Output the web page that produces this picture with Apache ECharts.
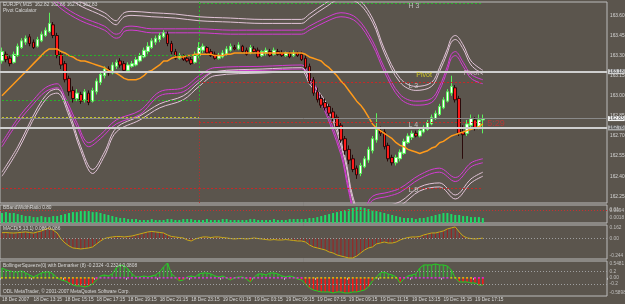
<!DOCTYPE html>
<html>
<head>
<meta charset="utf-8">
<script src="https://cdn.jsdelivr.net/npm/echarts@6/dist/echarts.min.js"></script>
<style>
html,body{margin:0;padding:0;background:#5b554d;overflow:hidden;}
#chart{width:625px;height:304px;}
</style>
</head>
<body>
<div id="chart"></div>
<script>
// ---------------- DATA ----------------
const tickLabels = ['18 Dec 2007','18 Dec 13:15','18 Dec 15:15','18 Dec 17:15','18 Dec 19:15','18 Dec 21:15','18 Dec 23:15','19 Dec 01:15','19 Dec 03:15','19 Dec 05:15','19 Dec 07:15','19 Dec 09:15','19 Dec 11:15','19 Dec 13:15','19 Dec 15:15','19 Dec 17:15'];
const tickStep = 8;        // bars between time labels
const slotCount = 154;     // bar slots visible on the chart
const priceTicks = [163.60,163.45,163.30,163.15,163.00,162.85,162.70,162.55,162.40,162.25];

const openP = [163.26,163.31,163.28,163.25,163.30,163.36,163.40,163.44,163.40,163.37,
163.41,163.45,163.48,163.53,163.45,163.31,163.24,163.13,163.04,162.98,
163.01,162.97,163.02,162.96,163.03,163.10,163.15,163.20,163.17,163.22,
163.26,163.24,163.19,163.22,163.23,163.26,163.29,163.33,163.36,163.40,
163.42,163.44,163.46,163.39,163.33,163.28,163.30,163.28,163.27,163.25,
163.30,163.34,163.36,163.33,163.31,163.28,163.29,163.31,163.34,163.36,
163.35,163.37,163.34,163.32,163.35,163.34,163.30,163.32,163.33,163.31,
163.33,163.32,163.30,163.32,163.30,163.32,163.31,163.28,163.22,163.12,
163.03,162.98,162.95,162.92,162.88,162.84,162.78,162.68,162.60,162.53,
162.46,162.42,162.47,162.52,162.59,162.67,162.74,162.73,162.63,162.54,
162.50,162.53,162.57,162.65,162.69,162.72,162.70,162.73,162.75,162.79,
162.83,162.86,162.91,162.96,163.02,163.06,162.98,162.73,162.72,162.78,
162.82,162.77,162.82];
const closeP = [163.33,163.27,163.24,163.31,163.37,163.41,163.43,163.39,163.36,163.42,
163.46,163.49,163.54,163.45,163.30,163.23,163.12,163.03,162.98,163.02,
162.96,163.03,162.95,163.04,163.11,163.16,163.20,163.17,163.23,163.25,
163.23,163.19,163.23,163.24,163.27,163.30,163.34,163.37,163.41,163.43,
163.45,163.47,163.39,163.33,163.28,163.30,163.27,163.26,163.24,163.31,
163.36,163.37,163.32,163.30,163.28,163.30,163.32,163.35,163.37,163.35,
163.38,163.33,163.31,163.36,163.33,163.29,163.33,163.34,163.30,163.34,
163.31,163.30,163.32,163.29,163.32,163.30,163.27,163.21,163.11,163.02,
162.97,162.93,162.91,162.87,162.83,162.77,162.67,162.59,162.52,162.45,
162.41,162.48,162.53,162.60,162.68,162.75,162.72,162.62,162.53,162.50,
162.54,162.58,162.66,162.70,162.72,162.70,162.74,162.76,162.80,162.84,
162.87,162.92,162.97,163.03,163.07,162.97,162.72,162.71,162.79,162.83,
162.76,162.82,162.83];
const lowP = [163.24,163.25,163.22,163.24,163.29,163.35,163.38,163.37,163.35,163.36,
163.40,163.44,163.47,163.43,163.28,163.20,163.10,163.00,162.95,162.96,
162.94,162.95,162.93,162.95,163.01,163.08,163.13,163.15,163.16,163.20,
163.21,163.18,163.17,163.21,163.22,163.25,163.28,163.31,163.35,163.38,
163.40,163.43,163.37,163.31,163.27,163.27,163.26,163.25,163.23,163.24,
163.28,163.32,163.31,163.29,163.27,163.27,163.28,163.30,163.33,163.34,
163.34,163.32,163.30,163.31,163.32,163.28,163.29,163.30,163.29,163.30,
163.30,163.29,163.29,163.28,163.29,163.29,163.26,163.20,163.09,163.00,
162.95,162.91,162.89,162.85,162.81,162.75,162.65,162.56,162.49,162.43,
162.38,162.40,162.46,162.50,162.57,162.65,162.70,162.60,162.51,162.48,
162.48,162.51,162.56,162.64,162.67,162.69,162.69,162.72,162.74,162.78,
162.82,162.85,162.90,162.95,163.00,162.95,162.70,162.53,162.70,162.76,
162.74,162.75,162.72];
const highP = [163.36,163.33,163.30,163.33,163.39,163.43,163.45,163.46,163.42,163.44,
163.48,163.51,163.62,163.55,163.47,163.34,163.26,163.15,163.07,163.05,
163.03,163.05,163.04,163.06,163.13,163.18,163.22,163.22,163.25,163.27,
163.28,163.26,163.25,163.26,163.29,163.32,163.36,163.40,163.43,163.45,
163.47,163.49,163.48,163.41,163.35,163.32,163.31,163.30,163.29,163.33,
163.40,163.39,163.37,163.35,163.33,163.32,163.34,163.37,163.39,163.38,
163.40,163.38,163.36,163.38,163.37,163.36,163.34,163.36,163.35,163.36,
163.35,163.34,163.33,163.33,163.34,163.33,163.33,163.30,163.24,163.14,
163.06,163.01,162.98,162.94,162.91,162.86,162.80,162.70,162.63,162.56,
162.48,162.50,162.55,162.62,162.70,162.87,162.77,162.75,162.65,162.56,
162.56,162.60,162.68,162.72,162.74,162.74,162.76,162.78,162.82,162.86,
162.89,162.94,162.99,163.05,163.15,163.08,163.00,162.78,162.82,162.86,
162.84,162.86,162.86];

const maValues = [163.00,163.03,163.06,163.09,163.12,163.15,163.18,163.21,163.24,163.27,
163.30,163.33,163.35,163.35,163.35,163.33,163.32,163.30,163.29,163.27,
163.26,163.26,163.25,163.24,163.23,163.22,163.21,163.19,163.18,163.17,
163.15,163.13,163.12,163.12,163.12,163.13,163.15,163.18,163.19,163.21,
163.23,163.26,163.26,163.28,163.29,163.29,163.29,163.30,163.30,163.31,
163.31,163.31,163.31,163.31,163.30,163.30,163.30,163.31,163.31,163.32,
163.32,163.32,163.32,163.32,163.32,163.32,163.32,163.32,163.32,163.32,
163.32,163.32,163.32,163.32,163.32,163.32,163.32,163.31,163.29,163.28,
163.27,163.26,163.23,163.21,163.18,163.15,163.11,163.08,163.04,163.00,
162.96,162.93,162.89,162.84,162.79,162.76,162.74,162.72,162.70,162.68,
162.65,162.63,162.62,162.60,162.59,162.58,162.57,162.58,162.59,162.61,
162.62,162.65,162.66,162.68,162.70,162.71,162.72,162.73,162.74,162.75,
162.76,162.77,162.79];

// envelope bands: [bar index, price]
const upperInner = [[12,163.74],[15,163.65],[20,163.56],[26,163.49],[29,163.43],[30,163.44],[31,163.48],[33,163.49],[38,163.47],[44,163.47],[50,163.47],[58,163.46],[66,163.46],[76,163.46],[78,163.49],[82,163.55],[86,163.59],[90,163.55],[94,163.38],[97,163.18],[101,162.98],[105,162.93],[109,162.95],[111,163.04],[113,163.19],[114,163.28],[115,163.30],[117,163.22],[119,163.13],[122,163.09]];
const upperOuter = [[16,163.78],[20,163.70],[26,163.62],[29,163.56],[30,163.59],[31,163.62],[33,163.63],[38,163.62],[44,163.61],[50,163.59],[58,163.58],[66,163.57],[76,163.57],[78,163.61],[82,163.69],[86,163.75],[90,163.73],[94,163.58],[97,163.35],[101,163.13],[105,163.07],[109,163.10],[111,163.21],[113,163.35],[114,163.43],[115,163.45],[117,163.38],[119,163.26],[122,163.19]];
const lowerInner = [[0,162.65],[4,162.83],[8,162.97],[11,163.06],[14,163.09],[16,162.99],[19,162.80],[22,162.65],[25,162.71],[29,162.82],[35,162.89],[40,163.03],[46,163.06],[50,163.15],[54,163.21],[66,163.22],[76,163.23],[78,163.15],[81,162.98],[86,162.59],[88,162.31],[90,162.11],[92,162.16],[94,162.25],[98,162.28],[101,162.31],[106,162.41],[111,162.46],[115,162.39],[119,162.50],[122,162.53]];
const lowerOuter = [[0,162.40],[4,162.59],[9,162.88],[12,163.00],[14,163.02],[17,162.85],[20,162.59],[23,162.42],[26,162.55],[29,162.73],[35,162.82],[40,162.91],[46,162.97],[50,163.07],[54,163.15],[66,163.17],[76,163.18],[78,163.09],[83,162.88],[87,162.52],[89,162.22],[92,162.03],[96,162.13],[101,162.18],[106,162.29],[111,162.32],[115,162.23],[119,162.35],[122,162.40]];

const sessionStart = 50;
const lastBar = 122;
const prevDayLevels = [163.30, 162.97, 162.84, 162.31];
const pivotLevelValues = [163.69, 163.10, 162.80, 162.31];   // H3, L3, L4, L5
const userLines = [163.18, 162.757];
const bidPrice = 162.83;
const boxTexts = ['163.18', '162.83', '162.76'];
const noteTexts = ['H 3','Pivot','L 3','Pivot','L 4','L 5','5:29'];
const noteIdx = [103,105,103,117,103,103,123];
const noteVals = [163.667,163.152,163.070,163.167,162.779,162.294,162.794];

const bbwValues = [0.0079,0.0086,0.0079,0.0079,0.0071,0.0064,0.0056,0.0056,0.0048,0.0048,
0.0056,0.0048,0.0048,0.0056,0.0056,0.0064,0.0071,0.0079,0.0086,0.0086,
0.0094,0.0094,0.0094,0.0086,0.0086,0.0079,0.0071,0.0064,0.0056,0.0048,
0.0041,0.0041,0.0033,0.0033,0.0033,0.0026,0.0026,0.0026,0.0033,0.0026,
0.0026,0.0026,0.0033,0.0033,0.0026,0.0026,0.0033,0.0033,0.0033,0.0026,
0.0026,0.0026,0.0033,0.0026,0.0026,0.0026,0.0033,0.0033,0.0026,0.0026,
0.0026,0.0026,0.0026,0.0033,0.0033,0.0026,0.0026,0.0026,0.0026,0.0033,
0.0026,0.0026,0.0026,0.0033,0.0033,0.0033,0.0033,0.0033,0.0041,0.0041,
0.0048,0.0056,0.0064,0.0071,0.0079,0.0086,0.0094,0.0102,0.0109,0.0117,
0.0124,0.0124,0.0117,0.0109,0.0102,0.0094,0.0086,0.0079,0.0071,0.0064,
0.0056,0.0048,0.0041,0.0041,0.0041,0.0033,0.0041,0.0041,0.0048,0.0056,
0.0064,0.0071,0.0079,0.0079,0.0071,0.0064,0.0064,0.0056,0.0056,0.0048,
0.0048,0.0048,0.0041];
const bbwLevels = [0.0094, 0.0018];
const bbwTickValues = [0.0128, 0.0094, 0.0018];
const bbwTickLabels = ['0.01', '0.0094', '0.0018'];

const macdValues = [0.070,0.072,0.068,0.066,0.070,0.075,0.079,0.072,0.066,0.079,
0.091,0.110,0.127,0.100,0.067,-0.005,-0.053,-0.088,-0.112,-0.118,
-0.124,-0.118,-0.112,-0.100,-0.064,-0.029,0.000,0.012,0.019,0.025,
0.025,0.019,0.025,0.031,0.043,0.055,0.067,0.079,0.085,0.079,
0.073,0.067,0.043,0.025,0.019,0.012,0.007,-0.017,-0.029,-0.005,
0.007,0.019,0.019,0.012,0.019,0.019,0.012,0.007,0.000,-0.005,
0.000,0.000,-0.005,0.000,0.007,0.000,-0.005,-0.012,-0.017,-0.012,
-0.017,-0.017,-0.012,-0.017,-0.023,-0.029,-0.029,-0.041,-0.076,-0.100,
-0.112,-0.124,-0.136,-0.160,-0.172,-0.196,-0.208,-0.220,-0.232,-0.232,
-0.208,-0.172,-0.136,-0.112,-0.100,-0.064,-0.053,-0.041,-0.053,-0.053,
-0.041,-0.017,0.000,0.012,0.019,0.019,0.025,0.043,0.055,0.067,
0.067,0.079,0.091,0.115,0.127,0.139,0.079,0.031,0.007,0.000,
-0.005,0.000,0.005];
const macdZero = 0;
const macdTickValues = [0.162, 0, -0.244];
const macdTickLabels = ['0.162', '0.00', '-0.244'];

const squeezeValues = [0.322,0.257,0.224,0.192,0.192,0.224,0.159,0.094,0.029,0.094,
0.159,0.192,0.192,0.127,-0.003,-0.068,-0.101,-0.166,-0.231,-0.263,
-0.263,-0.296,-0.263,-0.198,-0.068,0.062,0.094,0.062,0.127,0.322,
0.419,0.387,0.289,0.127,0.029,0.029,0.062,0.029,0.062,0.094,
0.192,0.354,0.484,0.127,0.029,-0.101,-0.068,0.029,0.062,0.029,
0.127,0.159,0.159,0.127,0.062,0.029,0.062,-0.003,-0.068,-0.003,
0.029,0.029,-0.036,-0.133,0.029,0.127,0.127,0.094,0.159,0.159,
0.127,0.062,0.029,0.062,0.029,-0.036,-0.068,-0.198,-0.328,-0.393,
-0.426,-0.458,-0.458,-0.458,-0.491,-0.458,-0.458,-0.491,-0.491,-0.458,
-0.458,-0.426,-0.393,-0.296,-0.101,0.029,0.159,0.192,0.127,0.094,
0.029,-0.166,-0.036,0.062,0.094,0.127,0.322,0.419,0.419,0.419,
0.452,0.419,0.419,0.387,0.257,-0.003,-0.133,-0.133,-0.133,-0.166,
-0.166,-0.231,-0.2324];
const squeezeState = [1,1,1,1,1,1,1,1,1,1,1,1,1,1,1,1,1,1,1,1,1,1,1,1,
0,0,0,0,0,0,0,0,0,0,0,0,0,0,0,0,0,0,0,0,0,0,0,0,0,0,0,0,0,0,0,0,0,0,0,0,0,0,0,0,0,0,0,0,0,0,0,0,0,0,0,0,0,
1,1,1,1,1,1,1,1,1,1,1,1,1,1,1,1,1,1,1,1,1,1,1,1,
0,0,0,0,0,0,0,0,0,0,0,0,0,
1,1,1,1,1,1,
0,0,0];
const sqLevels = [0.2, -0.2];
const sqTickValues = [0.5481, 0.2, 0, -0.2, -0.5898];
const sqTickLabels = ['0.5481', '0.2', '0.00', '-0.2', '-0.5898'];

const headerTexts = ['EURJPY,M15  162.82 162.86 162.72 162.83', 'Pivot Calculator', 'BBandWidthRatio 0.80', 'MACD(5,13,1) 0.086 0.086', 'BollingerSqueeze(0) with Demarker (8) -0.2324 -0.2324 0.0808', 'ODL MetaTrader, \u00a9 2001-2007 MetaQuotes Software Corp.'];

// ---------------- CHART ----------------
const FONT = 'Liberation Sans';
const FS = 4.8;
const TXT = '#d8d8d8';
const BORDER = '#bcbcbc';
const MAG = '#d43cd4';
const PINK = '#e2c4d8';
const CLEAR = 'rgba(0,0,0,0)';

const chart = echarts.init(document.getElementById('chart'), null, {renderer:'canvas'});

const gridBase = {left:0, right:18, show:true, borderColor:BORDER, borderWidth:1, backgroundColor:'transparent', containLabel:false, outerBoundsMode:'none'};
const grid = [
  Object.assign({}, gridBase, {top:2, height:201}),
  Object.assign({}, gridBase, {top:205, height:18}),
  Object.assign({}, gridBase, {top:225, height:34}),
  Object.assign({}, gridBase, {top:261, height:35})
];
const categories = Array.from({length: slotCount}, (_, i) => String(i));
const xAxis = [0,1,2,3].map(g => ({
  type:'category', gridIndex:g, data:categories, boundaryGap:true,
  axisLine:{show:false}, splitLine:{show:false},
  axisTick: g === 3 ? {show:true, interval:(idx) => idx % tickStep === 0 && idx / tickStep < tickLabels.length, length:2, lineStyle:{color:BORDER}} : {show:false},
  axisLabel: g === 3 ? {show:true, interval:0, hideOverlap:false, align:'left', margin:1, fontSize:FS, fontFamily:FONT, color:TXT,
    formatter:(v, idx) => (idx % tickStep === 0 && tickLabels[idx / tickStep]) || ''} : {show:false}
}));
const hiddenY = {type:'value', position:'right', axisLabel:{show:false}, axisLine:{show:false}, axisTick:{show:false}, splitLine:{show:false}};
const yAxis = [
  {type:'value', gridIndex:0, position:'right', min:162.20, max:163.70, interval:0.05,
   axisLine:{show:false}, axisTick:{show:false}, splitLine:{show:false},
   axisLabel:{show:true, margin:3, fontSize:FS, fontFamily:FONT, color:TXT,
     formatter: v => priceTicks.some(t => Math.abs(t - v) < 1e-3) ? v.toFixed(2) : ''}},
  Object.assign({}, hiddenY, {gridIndex:1, min:0.0003, max:0.0140}),
  Object.assign({}, hiddenY, {gridIndex:2, min:-0.244, max:0.162}),
  Object.assign({}, hiddenY, {gridIndex:3, min:-0.5898, max:0.5481})
];

// right-hand labels of the indicator panels, anchored at the last bar slot
function axisTexts(gi, values, labels) {
  return {type:'scatter', xAxisIndex:gi, yAxisIndex:gi, symbolSize:1, itemStyle:{color:CLEAR}, silent:true, clip:false, z:6,
    data: values.map((v, k) => {
      const off = k === 0 ? 3 : (k === values.length - 1 && values.length > 2 ? -3 : 0);
      return {value:[slotCount - 1, v], name:labels[k], label:{offset:[0, off]}};
    }),
    label:{show:true, position:'right', distance:4, fontSize:FS, fontFamily:FONT, color:TXT, formatter: p => p.name}};
}
function dotted(values, color) {
  return {silent:true, symbol:['none','none'], animation:false, label:{show:false},
    data: values.map(v => ({yAxis:v, lineStyle:{color:color, width:1, type:[1,2]}}))};
}

// main panel level lines
const prevColors = ['#28b428', '#28b428', '#c8c828', '#c82828'];
const pivotColors = ['#28b428', '#c82828', '#c82828', '#c82828'];
const mainLines = [];
prevDayLevels.forEach((v, k) => mainLines.push([
  {coord:[0, v], lineStyle:{color:prevColors[k], width:1, type:[2,2]}, label:{show:false}}, {coord:[sessionStart, v]}]));
pivotLevelValues.forEach((v, k) => mainLines.push([
  {coord:[sessionStart, v], lineStyle:{color:pivotColors[k], width:1, type:[2,2]}, label:{show:false}}, {coord:[lastBar, v]}]));
mainLines.push([{coord:[sessionStart, 163.70], lineStyle:{color:'#28b428', width:1, type:[2,2]}, label:{show:false}}, {coord:[sessionStart, prevDayLevels[1]]}]);
mainLines.push([{coord:[sessionStart, prevDayLevels[1]], lineStyle:{color:'#c82828', width:1, type:[1,2]}, label:{show:false}}, {coord:[sessionStart, 162.20]}]);
const boxLabel = (text, bg, fg) => ({show:true, position:'end', distance:1, formatter:text, backgroundColor:bg, color:fg, padding:[0,1,0,1], fontSize:FS, fontFamily:FONT});
mainLines.push({yAxis:userLines[0], lineStyle:{color:'#cfcfcf', width:2, type:'solid'}, label:boxLabel(boxTexts[0], '#cfcfcf', '#333')});
mainLines.push({yAxis:bidPrice, lineStyle:{color:'#8a8a8a', width:1, type:'solid'}, label:boxLabel(boxTexts[1], '#f2f2f2', '#333')});
mainLines.push({yAxis:userLines[1], lineStyle:{color:'#cfcfcf', width:2, type:'solid'}, label:boxLabel(boxTexts[2], '#a8a8a8', '#333')});

function band(data, color, dy) {
  return {type:'line', xAxisIndex:0, yAxisIndex:0, data:data, smooth:0.35, showSymbol:false, symbol:'none', silent:true, clip:true, z:1,
    lineStyle:{color:color, width:1, shadowColor:color, shadowBlur:0, shadowOffsetY:dy}};
}
const noteColors = ['#d8d8d8', '#e8e020', '#d8d8d8', '#e0bcd4', '#d8d8d8', '#d8d8d8', '#c83232'];
const noteSizes = [7, 7, 7, 7, 7, 7, 9];

const series = [
  band(upperOuter, PINK, 4), band(upperInner, MAG, -4),
  band(lowerInner, MAG, 4), band(lowerOuter, PINK, -4),
  {type:'candlestick', xAxisIndex:0, yAxisIndex:0, barWidth:3, z:3,
   data: openP.map((o, i) => [o, closeP[i], lowP[i], highP[i]]),
   itemStyle:{color:'#ffffff', color0:'#ff1a1a', borderColor:'#5cf25c', borderColor0:'#2a0a0a', borderWidth:1},
   markLine:{silent:true, symbol:['none','none'], animation:false, data:mainLines}},
  {type:'line', xAxisIndex:0, yAxisIndex:0, data:maValues, showSymbol:false, symbol:'none', z:4,
   lineStyle:{color:'#ff9a1a', width:1.5}},
  {type:'scatter', xAxisIndex:0, yAxisIndex:0, symbolSize:1, itemStyle:{color:CLEAR}, silent:true, z:5, clip:false,
   data: noteTexts.map((t, k) => ({value:[noteIdx[k], noteVals[k]], name:t,
     label:{color:noteColors[k], fontSize:noteSizes[k]}})),
   label:{show:true, position:'right', distance:0, fontFamily:FONT, formatter: p => p.name}},
  // BBandWidthRatio
  {type:'bar', xAxisIndex:1, yAxisIndex:1, data:bbwValues, barWidth:2, itemStyle:{color:'#1ed968'},
   markLine: dotted(bbwLevels, '#c83030')},
  axisTexts(1, bbwTickValues, bbwTickLabels),
  // MACD
  {type:'bar', xAxisIndex:2, yAxisIndex:2, data:macdValues, barWidth:1, itemStyle:{color:'#a02020'}},
  {type:'line', xAxisIndex:2, yAxisIndex:2, data:macdValues, showSymbol:false, symbol:'none',
   lineStyle:{color:'#c8aa18', width:1}, markLine: dotted([macdZero], '#a0a0a0')},
  axisTexts(2, macdTickValues, macdTickLabels),
  // Bollinger squeeze
  {type:'bar', xAxisIndex:3, yAxisIndex:3, data:squeezeValues, barWidth:1.5,
   itemStyle:{color: p => p.value < 0 ? '#ff1414' : '#3aa83a'}},
  {type:'line', xAxisIndex:3, yAxisIndex:3, data:squeezeValues, showSymbol:false, symbol:'none',
   lineStyle:{color:'#22d022', width:1}, markLine: dotted(sqLevels, '#a0a0a0')},
  {type:'scatter', xAxisIndex:3, yAxisIndex:3, symbol:'rect', symbolSize:[2,1.5], silent:true, z:5,
   data: squeezeState.map((s, i) => ({value:[i, 0], itemStyle:{color: s ? '#f0e000' : '#ff20ff'}}))},
  axisTexts(3, sqTickValues, sqTickLabels)
];

const headerTops = [2, 8, 205.5, 226.5, 263, 289];
const option = {
  backgroundColor:'#5b554d',
  animation:false,
  title: headerTexts.map((t, k) => ({text:t, left:3, top:headerTops[k], padding:0,
    textStyle:{fontSize:FS, fontFamily:FONT, color:TXT, fontWeight:'normal'}})),
  grid: grid, xAxis: xAxis, yAxis: yAxis, series: series
};
chart.setOption(option);
</script>
</body>
</html>
